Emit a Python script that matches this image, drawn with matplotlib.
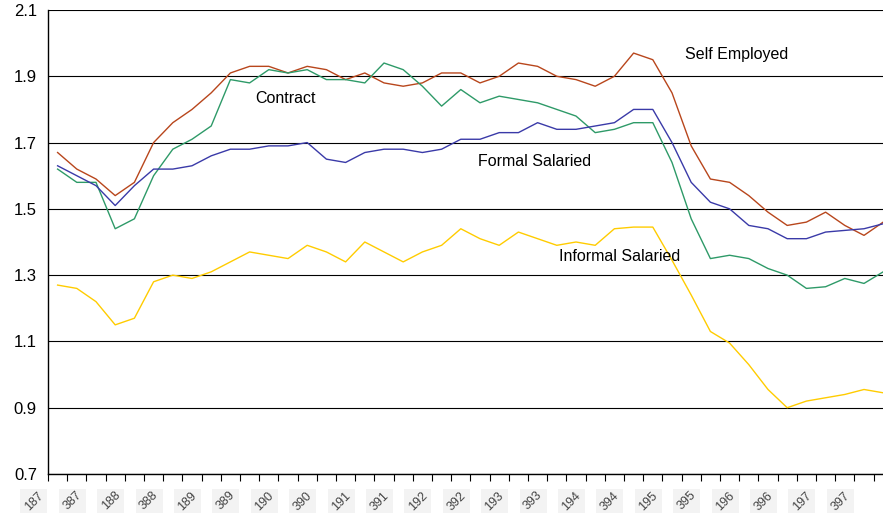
import matplotlib
matplotlib.use("Agg")
import matplotlib.pyplot as plt
from matplotlib.patches import Rectangle

# quarters 1Q87 .. 4Q97, labelled every other quarter
quarters = list(range(44))
tick_labels = ["187", "387", "188", "388", "189", "389", "190", "390", "191", "391",
               "192", "392", "193", "393", "194", "394", "195", "395", "196", "396",
               "197", "397"]

self_employed = [1.67, 1.62, 1.59, 1.54, 1.58, 1.70, 1.76, 1.80, 1.85, 1.91,
                 1.93, 1.93, 1.91, 1.93, 1.92, 1.89, 1.91, 1.88, 1.87, 1.88,
                 1.91, 1.91, 1.88, 1.90, 1.94, 1.93, 1.90, 1.89, 1.87, 1.90,
                 1.97, 1.95, 1.85, 1.69, 1.59, 1.58, 1.54, 1.49, 1.45, 1.46,
                 1.49, 1.45, 1.42, 1.46]
contract = [1.62, 1.58, 1.58, 1.44, 1.47, 1.60, 1.68, 1.71, 1.75, 1.89,
            1.88, 1.92, 1.91, 1.92, 1.89, 1.89, 1.88, 1.94, 1.92, 1.87,
            1.81, 1.86, 1.82, 1.84, 1.83, 1.82, 1.80, 1.78, 1.73, 1.74,
            1.76, 1.76, 1.64, 1.47, 1.35, 1.36, 1.35, 1.32, 1.30, 1.26,
            1.265, 1.29, 1.275, 1.31]
formal_salaried = [1.63, 1.60, 1.57, 1.51, 1.57, 1.62, 1.62, 1.63, 1.66, 1.68,
                   1.68, 1.69, 1.69, 1.70, 1.65, 1.64, 1.67, 1.68, 1.68, 1.67,
                   1.68, 1.71, 1.71, 1.73, 1.73, 1.76, 1.74, 1.74, 1.75, 1.76,
                   1.80, 1.80, 1.70, 1.58, 1.52, 1.50, 1.45, 1.44, 1.41, 1.41,
                   1.43, 1.435, 1.44, 1.455]
informal_salaried = [1.27, 1.26, 1.22, 1.15, 1.17, 1.28, 1.30, 1.29, 1.31, 1.34,
                     1.37, 1.36, 1.35, 1.39, 1.37, 1.34, 1.40, 1.37, 1.34, 1.37,
                     1.39, 1.44, 1.41, 1.39, 1.43, 1.41, 1.39, 1.40, 1.39, 1.44,
                     1.445, 1.445, 1.345, 1.24, 1.13, 1.095, 1.03, 0.955, 0.90, 0.92,
                     0.93, 0.94, 0.955, 0.945]

plt.rcParams['font.family'] = ['Liberation Sans', 'DejaVu Sans']

fig = plt.figure(figsize=(8.83, 5.25), dpi=100)
ax = fig.add_axes([48 / 883, 51 / 525, 844.8 / 883, 464 / 525])

ax.plot(quarters, self_employed, color="#b8461c", lw=1.0)
ax.plot(quarters, contract, color="#2e9a68", lw=1.0)
ax.plot(quarters, formal_salaried, color="#3a3aa8", lw=1.0)
ax.plot(quarters, informal_salaried, color="#ffcc00", lw=1.0)

ax.set_xlim(-0.5, 43.5)
ax.set_ylim(0.7, 2.1)
ax.set_yticks([0.7, 0.9, 1.1, 1.3, 1.5, 1.7, 1.9, 2.1])
ax.set_yticklabels(["0.7", "0.9", "1.1", "1.3", "1.5", "1.7", "1.9", "2.1"], fontsize=12)
ax.tick_params(axis="y", length=0, pad=8)
ax.yaxis.grid(True, color="black", lw=0.8)
ax.set_axisbelow(True)

# boundary ticks on the category axis
ax.set_xticks([q - 0.5 for q in quarters])
ax.set_xticklabels([])
ax.tick_params(axis="x", length=5, width=0.8, color="black")

# rotated labels inside small light squares, every other quarter
trans = ax.get_xaxis_transform()
for q, lab in zip(quarters[::2], tick_labels):
    cx, cy = q - 1.23, -0.0582
    ax.add_patch(Rectangle((cx - 0.703, cy - 0.026), 1.406, 0.052, transform=trans,
                           facecolor="#f3f3f3", edgecolor="none", clip_on=False))
    ax.text(cx, cy, lab, transform=trans, rotation=45,
            ha="center", va="center", fontsize=9, color="#444444", clip_on=False)

for side in ["top", "right"]:
    ax.spines[side].set_visible(False)
ax.spines["left"].set_linewidth(1.0)
ax.spines["bottom"].set_linewidth(1.0)

ax.text(32.7, 1.953, "Self Employed", fontsize=11.5)
ax.text(10.3, 1.818, "Contract", fontsize=11.5)
ax.text(21.9, 1.628, "Formal Salaried", fontsize=11.5)
ax.text(26.1, 1.343, "Informal Salaried", fontsize=11.5)

fig.savefig("out.png", dpi=100)
